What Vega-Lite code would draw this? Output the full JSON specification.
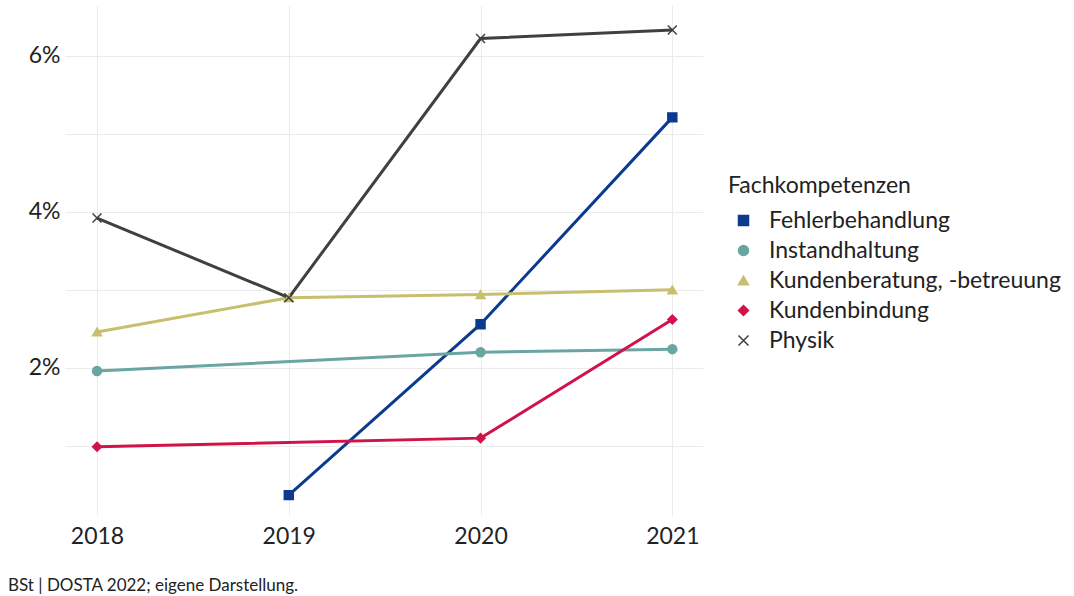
{
  "$schema": "https://vega.github.io/schema/vega-lite/v6.json",
  "width": 638,
  "height": 510,
  "autosize": {"type": "none"},
  "padding": {"left": 65, "top": 5, "right": 371, "bottom": 81},
  "background": "white",
  "config": {
    "font": "Lato",
    "view": {"stroke": null},
    "axis": {"domain": false, "ticks": false, "gridColor": "#ebebeb", "gridWidth": 1, "labelFont": "Lato", "labelColor": "#222222", "labelFontSize": 23},
    "legend": {"titleFont": "Lato", "labelFont": "Lato"}
  },
  "title": {
    "text": "BSt | DOSTA 2022; eigene Darstellung.",
    "orient": "bottom",
    "anchor": "start",
    "frame": "group",
    "dx": -57,
    "offset": 30,
    "fontSize": 17,
    "fontWeight": "normal",
    "color": "#222222",
    "font": "Lato"
  },
  "data": {
    "values": [
      {"year": 2019, "value": 0.37, "series": "Fehlerbehandlung"},
      {"year": 2020, "value": 2.56, "series": "Fehlerbehandlung"},
      {"year": 2021, "value": 5.21, "series": "Fehlerbehandlung"},
      {"year": 2018, "value": 1.96, "series": "Instandhaltung"},
      {"year": 2020, "value": 2.2, "series": "Instandhaltung"},
      {"year": 2021, "value": 2.24, "series": "Instandhaltung"},
      {"year": 2018, "value": 2.46, "series": "Kundenberatung, -betreuung"},
      {"year": 2019, "value": 2.9, "series": "Kundenberatung, -betreuung"},
      {"year": 2020, "value": 2.94, "series": "Kundenberatung, -betreuung"},
      {"year": 2021, "value": 3.0, "series": "Kundenberatung, -betreuung"},
      {"year": 2018, "value": 0.99, "series": "Kundenbindung"},
      {"year": 2020, "value": 1.1, "series": "Kundenbindung"},
      {"year": 2021, "value": 2.62, "series": "Kundenbindung"},
      {"year": 2018, "value": 3.92, "series": "Physik"},
      {"year": 2019, "value": 2.9, "series": "Physik"},
      {"year": 2020, "value": 6.22, "series": "Physik"},
      {"year": 2021, "value": 6.33, "series": "Physik"}
    ]
  },
  "encoding": {
    "x": {
      "field": "year", "type": "quantitative",
      "scale": {"domain": [2017.833, 2021.16], "nice": false, "zero": false},
      "axis": {"title": null, "values": [2018, 2018.5, 2019, 2019.5, 2020, 2020.5, 2021], "labelExpr": "datum.value % 1 == 0 ? datum.label : ''", "format": "d", "labelPadding": 10, "labelFlush": false}
    },
    "y": {
      "field": "value", "type": "quantitative",
      "scale": {"domain": [0.115, 6.65], "nice": false, "zero": false},
      "axis": {"title": null, "values": [1, 2, 3, 4, 5, 6], "labelExpr": "datum.value % 2 == 0 ? datum.value + '%' : ''", "labelPadding": 5}
    },
    "color": {
      "field": "series", "type": "nominal",
      "scale": {"domain": ["Fehlerbehandlung", "Instandhaltung", "Kundenberatung, -betreuung", "Kundenbindung", "Physik"], "range": ["#0b3a8f", "#6aa6a1", "#c8bf6e", "#d0144a", "#404040"]},
      "legend": {"title": "Fachkompetenzen", "orient": "none", "legendX": 663, "legendY": 170, "titleFontSize": 23, "titleFontWeight": "normal", "titleColor": "#222222", "titleLimit": 400, "labelFontSize": 23, "labelColor": "#222222", "labelLimit": 400, "rowPadding": 6, "titlePadding": 11, "symbolSize": 100, "labelOffset": 14, "symbolOffset": 4}
    }
  },
  "layer": [
    {"mark": {"type": "line", "strokeWidth": 3}, "encoding": {"detail": {"field": "series"}}},
    {
      "mark": {"type": "point", "filled": true, "size": 80, "opacity": 1, "strokeWidth": 1.5},
      "encoding": {
        "shape": {
          "field": "series", "type": "nominal",
          "scale": {"domain": ["Fehlerbehandlung", "Instandhaltung", "Kundenberatung, -betreuung", "Kundenbindung", "Physik"], "range": ["square", "circle", "triangle-up", "diamond", "M-1,-1L1,1M-1,1L1,-1"]},
          "legend": {"title": "Fachkompetenzen"}
        },
        "stroke": {
          "field": "series", "type": "nominal",
          "scale": {"domain": ["Fehlerbehandlung", "Instandhaltung", "Kundenberatung, -betreuung", "Kundenbindung", "Physik"], "range": ["#0b3a8f", "#6aa6a1", "#c8bf6e", "#d0144a", "#404040"]},
          "legend": null
        }
      }
    }
  ]
}
